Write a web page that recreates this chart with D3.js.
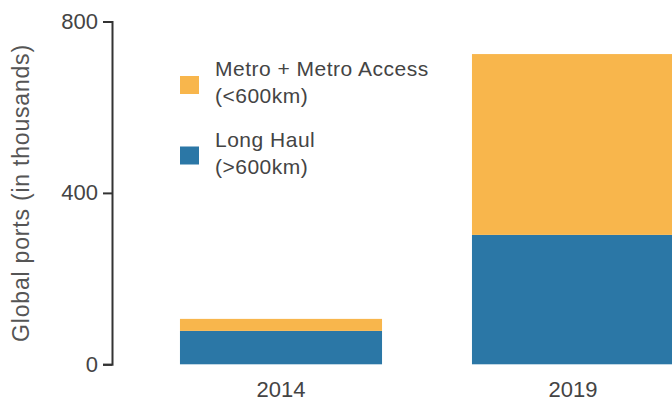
<!DOCTYPE html>
<html>
<head>
<meta charset="utf-8">
<script src="https://cdn.jsdelivr.net/npm/d3@7"></script>
<style>
  body { margin: 0; background: #fff; }
  text { font-family: "Liberation Sans", Arial, sans-serif; }
</style>
</head>
<body>
<svg id="chart" width="672" height="401"></svg>
<script>
// data (thousands of ports)
const years = ['2014', '2019'];
const longHaul = [78, 302];
const metro = [28, 422];
const seriesKeys = ['longHaul', 'metro'];
const seriesColors = ['#2b77a6', '#f8b64c'];
const legendLines = [['Metro + Metro Access', '(<600km)'], ['Long Haul', '(>600km)']];
const yTicks = [0, 400, 800];

const rows = years.map((y, i) => ({year: y, longHaul: longHaul[i], metro: metro[i]}));

const svg = d3.select('#chart');
const margin = {top: 21.5, left: 112};
const axisBottomY = 364.3;

// scales
const x = d3.scaleBand()
  .domain(years)
  .range([135, 719])
  .paddingInner(0.308)
  .paddingOuter(0.154);

const y = d3.scaleLinear()
  .domain([0, 800])
  .range([axisBottomY, margin.top]);

const color = d3.scaleOrdinal().domain(seriesKeys).range(seriesColors);

const stacked = d3.stack().keys(seriesKeys)(rows);

// bars
svg.append('g')
  .selectAll('g')
  .data(stacked)
  .join('g')
  .attr('fill', d => color(d.key))
  .selectAll('rect')
  .data(d => d)
  .join('rect')
  .attr('x', d => x(d.data.year))
  .attr('width', x.bandwidth())
  .attr('y', d => y(d[1]))
  .attr('height', d => y(d[0]) - y(d[1]));

// y axis
const yAxis = svg.append('g')
  .attr('transform', `translate(${margin.left},0)`)
  .call(d3.axisLeft(y).tickValues(yTicks).tickSize(9).tickPadding(5));

yAxis.select('.domain').attr('stroke', '#333').attr('stroke-width', 2);
yAxis.selectAll('.tick line').attr('stroke', '#333').attr('stroke-width', 2);
yAxis.selectAll('.tick text')
  .attr('fill', '#444')
  .attr('font-size', 22)
  .attr('font-family', '"Liberation Sans", Arial, sans-serif');

svg.append('text')
  .attr('transform', `translate(29,193) rotate(-90)`)
  .attr('text-anchor', 'middle')
  .attr('fill', '#555')
  .attr('font-size', 23)
  .attr('letter-spacing', 0.8)
  .text('Global ports (in thousands)');

// x labels
svg.append('g')
  .selectAll('text')
  .data(years)
  .join('text')
  .attr('x', d => x(d) + x.bandwidth() / 2)
  .attr('y', 397)
  .attr('text-anchor', 'middle')
  .attr('fill', '#444')
  .attr('font-size', 22)
  .text(d => d);

// legend
const legend = svg.append('g');
const legendItems = legend.selectAll('g')
  .data(['metro', 'longHaul'])
  .join('g')
  .attr('transform', (d, i) => `translate(180,${76 + i * 70.5})`);

legendItems.append('rect')
  .attr('width', 19)
  .attr('height', 18)
  .attr('fill', d => color(d));

legendItems.each(function(d, i) {
  const t = d3.select(this).append('text')
    .attr('fill', '#444')
    .attr('font-size', 21)
    .attr('letter-spacing', 0.5);
  legendLines[i].forEach((line, j) => {
    t.append('tspan')
      .attr('x', 35)
      .attr('y', j * 27)
      .text(line);
  });
});
</script>
</body>
</html>
